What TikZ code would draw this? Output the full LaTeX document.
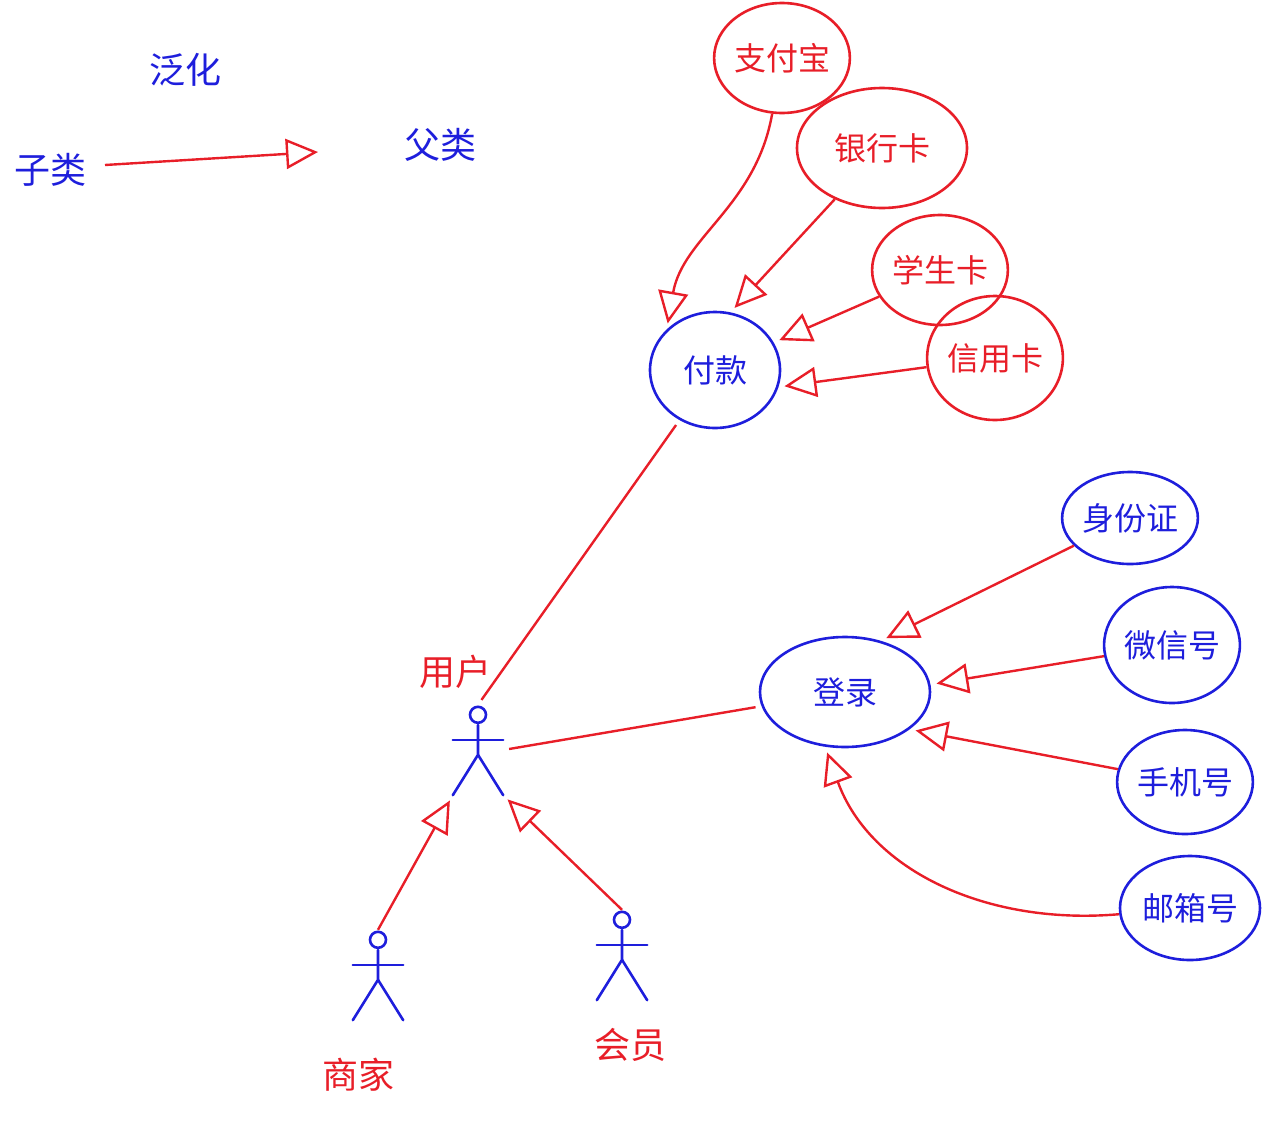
\documentclass[tikz,border=0pt]{standalone}
\usepackage{fontspec}
\setmainfont{Noto Sans CJK SC}
\usetikzlibrary{arrows.meta,shapes.geometric}
\definecolor{hb}{RGB}{30,30,220}
\definecolor{hr}{RGB}{232,30,40}
\begin{document}
\begin{tikzpicture}[x=1pt,y=-1pt,
  uc/.style={ellipse,draw,line width=2.6pt,inner sep=0pt,font=\fontsize{32}{32}\selectfont},
  ucb/.style={uc,draw=hb,text=hb},
  ucr/.style={uc,draw=hr,text=hr},
  gen/.style={draw=hr,line width=2.4pt,-{Triangle[open,length=32pt,width=30pt,line width=2.4pt]},shorten >=6pt},
  assoc/.style={draw=hr,line width=2.4pt,shorten >=6pt,shorten <=6pt},
  lbl/.style={font=\fontsize{36}{36}\selectfont},
  act/.style={minimum width=50pt,minimum height=90pt,inner sep=0pt},
  fig/.style={draw=hb,line width=2.6pt,line cap=round}]
\useasboundingbox (0,0) rectangle (1272,1130);
\newcommand\mkactor[2]{%
  \node[act] (#1) at (#2) {};
  \draw[fig] ([yshift=-10pt]#1.north) circle[radius=8pt];
  \draw[fig] ([yshift=-20pt]#1.north) -- ([yshift=-50pt]#1.north)
     -- (#1.south west);
  \draw[fig] ([yshift=-50pt]#1.north) -- (#1.south east);
  \draw[fig] ([yshift=-35pt]#1.north west) -- ([yshift=-35pt]#1.north east);}
% generalization legend
\node[lbl,text=hb] (gz) at (185,70) {泛化};
\node[lbl,text=hb] (sub) at (50,170) {子类};
\node[lbl,text=hb] (sup) at (440,145) {父类};
\coordinate (gs) at (105,165);
\coordinate (ge) at (318,152);
\draw[gen,shorten >=0pt] (gs) -- (ge);
% use cases
\node[ucb,minimum width=130pt,minimum height=116pt] (pay) at (715,370) {付款};
\node[ucr,minimum width=120pt,minimum height=110pt] (zfb) at (782,58) {支付宝};
\node[ucr,minimum width=170pt,minimum height=120pt] (yhk) at (882,148) {银行卡};
\node[ucr,minimum width=130pt,minimum height=110pt] (xsk) at (940,270) {学生卡};
\node[ucr,minimum width=130pt,minimum height=124pt] (xyk) at (995,358) {信用卡};
\node[ucb,minimum width=170pt,minimum height=110pt] (login) at (845,692) {登录};
\node[ucb,minimum width=126pt,minimum height=92pt] (sfz) at (1130,518) {身份证};
\node[ucb,minimum width=130pt,minimum height=116pt] (wx) at (1172,645) {微信号};
\node[ucb,minimum width=124pt,minimum height=104pt] (sj) at (1185,782) {手机号};
\node[ucb,minimum width=140pt,minimum height=104pt] (yx) at (1190,908) {邮箱号};
% actors
\mkactor{user}{478,750}
\node[lbl,text=hr] (userl) at (455,672) {用户};
\mkactor{shop}{378,975}
\node[lbl,text=hr] (shopl) at (358,1075) {商家};
\mkactor{vip}{622,955}
\node[lbl,text=hr] (vipl) at (630,1045) {会员};
% edges
\draw[gen] (shop.north) -- (user.south west);
\draw[gen] (vip.north) -- (user.south east);
\draw[assoc] (user.north) -- (pay);
\draw[assoc] (user.east) -- (login);
\draw[gen] (zfb) to[out=-100,in=80] (pay.140);
\draw[gen] (yhk) -- (pay.75);
\draw[gen] (xsk) -- (pay.25);
\draw[gen] (xyk) -- (pay.-15);
\draw[gen] (sfz) -- (login.55);
\draw[gen] (wx) -- (login.5);
\draw[gen] (sj) -- (login.-30);
\draw[gen] (yx) to[out=185,in=-70] (login.-110);
\end{tikzpicture}
\end{document}
